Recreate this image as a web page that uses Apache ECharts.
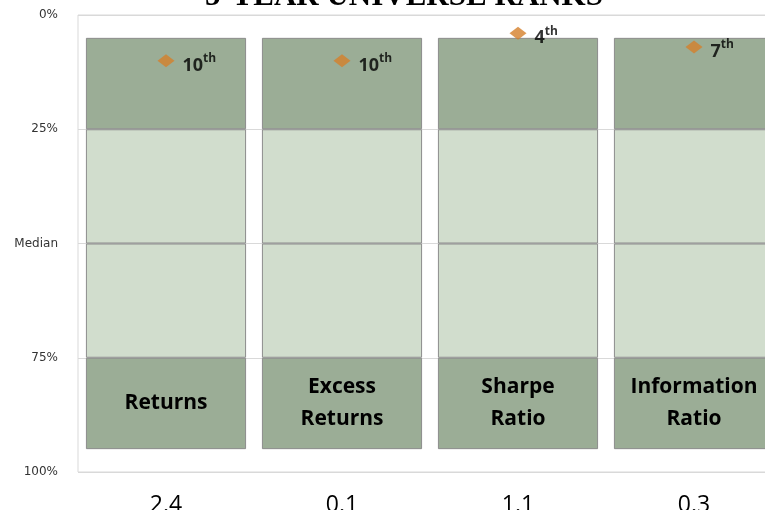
<!DOCTYPE html>
<html>
<head>
<meta charset="utf-8">
<script src="https://cdn.jsdelivr.net/npm/echarts@6/dist/echarts.min.js"></script>
<style>
  html, body { margin: 0; padding: 0; background: #fff; overflow: hidden; }
  /* chart is wider than the window on purpose: the right edge of the plot is cropped */
  #chart { width: 800px; height: 510px; }
</style>
</head>
<body>
<div id="chart"></div>
<script>
// universe rank chart data
const categories = ['Returns', 'Excess\nReturns', 'Sharpe\nRatio', 'Information\nRatio'];
const statValues = ['2.4', '0.1', '1.1', '0.3'];
const rangeTop = [5, 5, 5, 5];        // best percentile shown
const firstQuartile = [25, 25, 25, 25];
const medianRank = [50, 50, 50, 50];
const thirdQuartile = [75, 75, 75, 75];
const rangeBottom = [95, 95, 95, 95]; // worst percentile shown
const ranks = [10, 10, 4, 7];
const rankLabels = ['10', '10', '4', '7'];
const yTickLabels = { 0: '0%', 25: '25%', 50: 'Median', 75: '75%', 100: '100%' };

const DARK = '#9bad96';
const LIGHT = '#d1ddcd';
const EDGE = '#8c8c8c';

const chart = echarts.init(document.getElementById('chart'));

const diff = (a, b) => a.map((v, i) => v - b[i]);

function segment(name, data, color, withLabel) {
    return {
        name: name,
        type: 'bar',
        stack: 'range',
        barCategoryGap: '9%',
        data: data,
        itemStyle: { color: color, borderColor: EDGE, borderWidth: 1 },
        label: withLabel ? {
            show: true,
            position: 'inside',
            formatter: p => categories[p.dataIndex],
            fontFamily: 'Open Sans',
            fontWeight: 'bold',
            fontSize: 21,
            lineHeight: 32,
            color: '#000'
        } : { show: false },
        emphasis: { disabled: true },
        silent: true
    };
}

chart.setOption({
    animation: false,
    title: {
        text: '5-YEAR UNIVERSE RANKS',
        left: 399,
        textAlign: 'center',
        top: -24,
        textStyle: {
            fontFamily: 'Liberation Serif',
            fontWeight: 'bold',
            fontSize: 31,
            color: '#000'
        }
    },
    grid: {
        left: 78,
        top: 15,
        width: 704,
        height: 457,
        outerBoundsMode: 'none',
        containLabel: false,
        show: true,
        borderColor: '#d9d9d9',
        borderWidth: 1,
        backgroundColor: 'transparent'
    },
    xAxis: {
        type: 'category',
        data: statValues,
        axisLine: { show: false },
        axisTick: { show: false },
        axisLabel: {
            margin: 22,
            fontFamily: 'Open Sans',
            fontSize: 23,
            color: '#000'
        }
    },
    yAxis: {
        type: 'value',
        inverse: true,
        min: 0,
        max: 100,
        interval: 25,
        axisLine: { show: false },
        axisTick: { show: false },
        splitLine: { lineStyle: { color: '#d9d9d9', width: 1 } },
        axisLabel: {
            margin: 20,
            formatter: v => yTickLabels[v],
            fontFamily: 'DejaVu Sans',
            fontSize: 12,
            color: '#333'
        }
    },
    series: [
        {
            name: 'offset',
            type: 'bar',
            stack: 'range',
            data: rangeTop,
            itemStyle: { color: 'transparent' },
            silent: true
        },
        segment('top', diff(firstQuartile, rangeTop), DARK, false),
        segment('upper mid', diff(medianRank, firstQuartile), LIGHT, false),
        segment('lower mid', diff(thirdQuartile, medianRank), LIGHT, false),
        segment('bottom', diff(rangeBottom, thirdQuartile), DARK, true),
        {
            name: 'rank',
            type: 'scatter',
            data: ranks,
            symbol: 'diamond',
            symbolSize: [17, 13],
            itemStyle: { color: '#d4802a' },
            label: {
                show: true,
                position: 'right',
                distance: 8,
                offset: [0, 3],
                formatter: p => '{n|' + rankLabels[p.dataIndex] + '}{s|th}',
                rich: {
                    n: { fontFamily: 'Open Sans', fontWeight: 'bold', fontSize: 18, color: '#000', lineHeight: 22, verticalAlign: 'bottom' },
                    s: { fontFamily: 'Open Sans', fontWeight: 'bold', fontSize: 12, color: '#000', lineHeight: 22, verticalAlign: 'top' }
                }
            },
            z: 5
        }
    ]
});
</script>
</body>
</html>
